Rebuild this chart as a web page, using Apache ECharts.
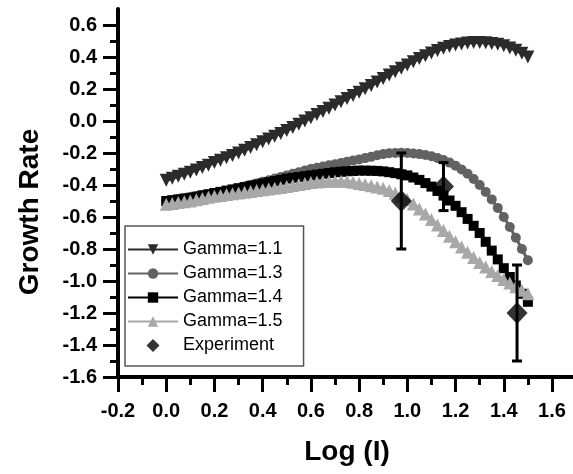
<!DOCTYPE html>
<html><head><meta charset="utf-8">
<script src="https://cdn.jsdelivr.net/npm/echarts@6/dist/echarts.min.js"></script>
<style>html,body{margin:0;padding:0;background:#fff}#c{width:573px;height:474px}</style>
</head><body><div id="c"></div>
<script>
const logI = [0.000,0.025,0.050,0.075,0.100,0.125,0.150,0.175,0.200,0.225,0.250,0.275,0.300,0.325,0.350,0.375,0.400,0.425,0.450,0.475,0.500,0.525,0.550,0.575,0.600,0.625,0.650,0.675,0.700,0.725,0.750,0.775,0.800,0.825,0.850,0.875,0.900,0.925,0.950,0.975,1.000,1.025,1.050,1.075,1.100,1.125,1.150,1.175,1.200,1.225,1.250,1.275,1.300,1.325,1.350,1.375,1.400,1.425,1.450,1.475,1.500];
const gamma11 = [-0.370,-0.358,-0.346,-0.333,-0.320,-0.306,-0.291,-0.276,-0.260,-0.245,-0.230,-0.215,-0.200,-0.183,-0.166,-0.148,-0.130,-0.113,-0.095,-0.078,-0.060,-0.040,-0.020,0.000,0.020,0.040,0.060,0.080,0.100,0.120,0.140,0.160,0.180,0.201,0.222,0.243,0.265,0.287,0.308,0.329,0.350,0.370,0.390,0.408,0.425,0.440,0.454,0.466,0.475,0.482,0.487,0.490,0.490,0.489,0.485,0.479,0.470,0.457,0.442,0.423,0.400];
const gamma13 = [-0.500,-0.494,-0.488,-0.481,-0.475,-0.469,-0.463,-0.457,-0.450,-0.443,-0.436,-0.428,-0.420,-0.410,-0.400,-0.390,-0.380,-0.370,-0.360,-0.350,-0.340,-0.330,-0.320,-0.310,-0.300,-0.292,-0.285,-0.277,-0.270,-0.262,-0.254,-0.247,-0.240,-0.232,-0.224,-0.214,-0.207,-0.202,-0.200,-0.199,-0.200,-0.203,-0.207,-0.213,-0.220,-0.231,-0.244,-0.260,-0.280,-0.303,-0.330,-0.362,-0.400,-0.443,-0.490,-0.543,-0.600,-0.663,-0.730,-0.800,-0.870];
const gamma14 = [-0.500,-0.495,-0.490,-0.485,-0.480,-0.473,-0.465,-0.458,-0.450,-0.443,-0.435,-0.428,-0.420,-0.413,-0.405,-0.398,-0.390,-0.383,-0.375,-0.368,-0.360,-0.355,-0.350,-0.345,-0.340,-0.335,-0.330,-0.325,-0.320,-0.317,-0.314,-0.312,-0.310,-0.310,-0.311,-0.312,-0.315,-0.320,-0.326,-0.333,-0.340,-0.353,-0.368,-0.388,-0.410,-0.437,-0.466,-0.497,-0.530,-0.570,-0.612,-0.655,-0.700,-0.755,-0.810,-0.865,-0.920,-0.975,-1.028,-1.080,-1.130];
const gamma15 = [-0.520,-0.515,-0.510,-0.505,-0.500,-0.492,-0.485,-0.477,-0.470,-0.465,-0.460,-0.455,-0.450,-0.445,-0.440,-0.435,-0.430,-0.425,-0.420,-0.415,-0.410,-0.403,-0.397,-0.391,-0.385,-0.381,-0.378,-0.376,-0.375,-0.376,-0.378,-0.383,-0.390,-0.397,-0.405,-0.412,-0.420,-0.435,-0.452,-0.470,-0.490,-0.518,-0.550,-0.582,-0.615,-0.650,-0.685,-0.720,-0.755,-0.788,-0.821,-0.853,-0.885,-0.913,-0.940,-0.966,-0.990,-1.013,-1.036,-1.058,-1.080];
const expX = [0.975, 1.15, 1.455];
const expY = [-0.50, -0.41, -1.20];
const expErr = [0.30, 0.15, 0.30];
const seriesNames = ['Gamma=1.1','Gamma=1.3','Gamma=1.4','Gamma=1.5','Experiment'];

const FONT = '"Liberation Sans", Arial, sans-serif';
const chart = echarts.init(document.getElementById('c'), null, {renderer:'canvas'});
const pair = arr => logI.map((x,i)=>[x, arr[i]]);
const lineSeries = (name, arr, color, symbol, size, rotate) => ({
  name, type:'line', data: pair(arr), symbol, symbolSize:size, symbolRotate: rotate||0,
  showAllSymbol:true, lineStyle:{color, width:3}, itemStyle:{color}, smooth:false,
  xAxisIndex:0, yAxisIndex:0, z:3
});
const axisLabelStyle = {fontSize:20, fontWeight:'bold', color:'#000', fontFamily:FONT};
const tickStyle = {color:'#000', width:3};
const lineOnly = {color:'#000', width:4};
const stubAxis = (gi) => ({type:'value', gridIndex:gi, min:0, max:1,
  axisLine:{show:true, onZero:false, lineStyle:lineOnly}, axisTick:{show:false},
  axisLabel:{show:false}, splitLine:{show:false}});
const hiddenAxis = (gi) => ({type:'value', gridIndex:gi, min:0, max:1, show:false});
chart.setOption({
  animation:false,
  backgroundColor:'#fff',
  grid:[
    {left:118, right:21, top:25, bottom:97},
    {left:552, right:-2, top:25, bottom:97},
    {left:118, width:10, top:9, height:16}
  ],
  legend:{
    orient:'vertical', left:125, top:226,
    data: seriesNames.slice(0,4).map(n=>({name:n})).concat([{name:seriesNames[4], icon:'path://M0,-1L1,0L0,1L-1,0Z'}]),
    padding:[14,21,11,2], itemWidth:50, itemHeight:13, itemGap:5,
    borderColor:'#555', borderWidth:1.5, backgroundColor:'#fff',
    textStyle:{fontSize:18, color:'#000', fontFamily:FONT, lineHeight:19}
  },
  xAxis:[
    {type:'value', gridIndex:0, min:-0.2, max:1.6, interval:0.2, position:'bottom',
     axisLine:{show:true, onZero:false, lineStyle:lineOnly},
     axisTick:{show:true, inside:false, length:15, lineStyle:tickStyle},
     minorTick:{show:true, splitNumber:2, length:8, lineStyle:tickStyle},
     axisLabel:Object.assign({margin:24, formatter:v=>v.toFixed(1)}, axisLabelStyle),
     splitLine:{show:false}, minorSplitLine:{show:false},
     name:'Log (I)', nameLocation:'middle', nameGap:61,
     nameTextStyle:{fontSize:28, fontWeight:'bold', color:'#000', fontFamily:FONT, padding:[0,0,0,24]}},
    stubAxis(1),
    hiddenAxis(2)
  ],
  yAxis:[
    {type:'value', gridIndex:0, min:-1.6, max:0.6, interval:0.2, position:'left',
     axisLine:{show:true, onZero:false, lineStyle:lineOnly},
     axisTick:{show:true, inside:false, length:15, lineStyle:tickStyle},
     minorTick:{show:true, splitNumber:2, length:8, lineStyle:tickStyle},
     axisLabel:Object.assign({margin:21, formatter:v=>v.toFixed(1)}, axisLabelStyle),
     splitLine:{show:false}, minorSplitLine:{show:false},
     name:'Growth Rate', nameLocation:'middle', nameGap:74, nameRotate:90,
     nameTextStyle:{fontSize:28, fontWeight:'bold', color:'#000', fontFamily:FONT, padding:[0,22,0,0]}},
    hiddenAxis(1),
    stubAxis(2)
  ],
  series:[
    lineSeries(seriesNames[0], gamma11, '#2b2b2b', 'triangle', 13, 180),
    lineSeries(seriesNames[1], gamma13, '#626262', 'circle', 10),
    lineSeries(seriesNames[2], gamma14, '#000000', 'rect', 10),
    lineSeries(seriesNames[3], gamma15, '#a8a8a8', 'triangle', 13),
    {name:'errbars', type:'custom', xAxisIndex:0, yAxisIndex:0, z:4,
     data: expX.map((x,i)=>[x, expY[i], expErr[i]]),
     encode:{x:0, y:1},
     renderItem:(params, api)=>{
       const x=api.value(0), y=api.value(1), e=api.value(2);
       const t=api.coord([x,y+e]), b=api.coord([x,y-e]);
       const hw=5, st={stroke:'#000', lineWidth:3};
       return {type:'group', children:[
         {type:'line', shape:{x1:t[0],y1:t[1],x2:b[0],y2:b[1]}, style:st},
         {type:'line', shape:{x1:t[0]-hw,y1:t[1],x2:t[0]+hw,y2:t[1]}, style:st},
         {type:'line', shape:{x1:b[0]-hw,y1:b[1],x2:b[0]+hw,y2:b[1]}, style:st}
       ]};
     }},
    {name:seriesNames[4], type:'scatter', xAxisIndex:0, yAxisIndex:0, z:5,
     data: expX.map((x,i)=>[x, expY[i]]), symbol:'diamond', symbolSize:[21,22],
     itemStyle:{color:'#000'}}
  ]
});
</script></body></html>
